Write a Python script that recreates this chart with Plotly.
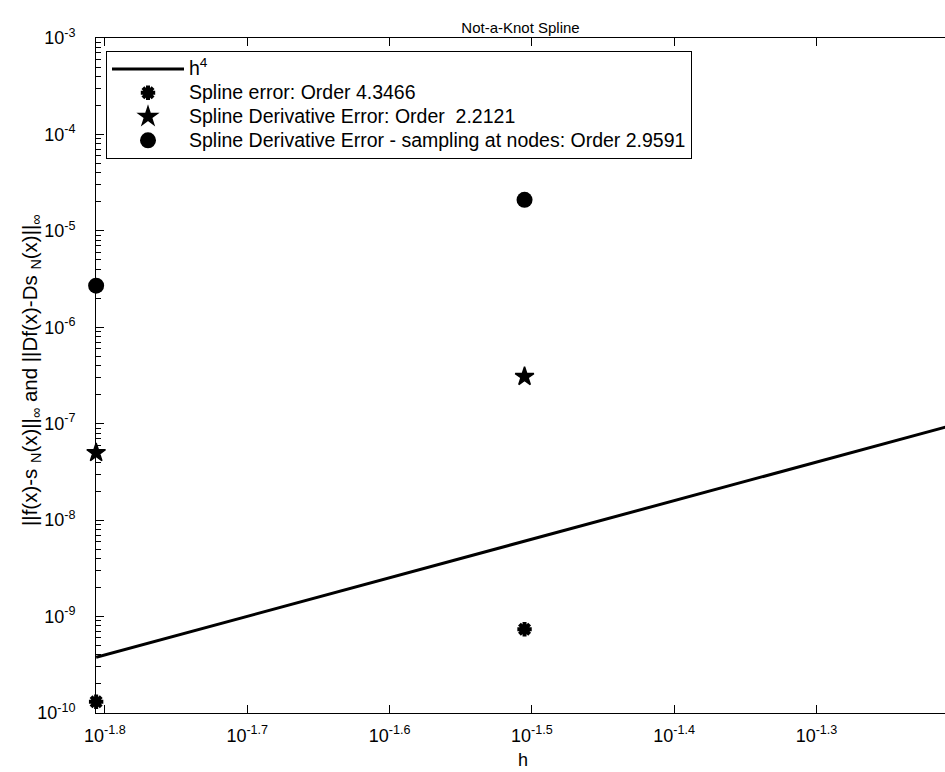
import math
import plotly.graph_objects as go

# ---- data ----
h_pts = [1/64, 1/32]
spline_err = [1.31e-10, 7.4e-10]
deriv_err = [5.0e-8, 3.08e-7]
deriv_nodes_err = [2.7e-6, 2.1e-5]

h_line = [1/64, 1/32, 1/16]
h4_ref = [3.78e-10, 6.05e-9, 9.68e-8]

x_tick_exp = [-1.8, -1.7, -1.6, -1.5, -1.4, -1.3]
y_tick_exp = [-10, -9, -8, -7, -6, -5, -4, -3]

names = [
    "h<sup>4</sup>",
    "Spline error: Order 4.3466",
    "Spline Derivative Error: Order  2.2121",
    "Spline Derivative Error - sampling at nodes: Order 2.9591",
]

FONT = "Liberation Sans, Arial, Helvetica, sans-serif"


def big(t):
    return '<span style="font-size:19.5px">' + t + '</span>'


fig = go.Figure()
fig.add_trace(go.Scatter(x=h_line, y=h4_ref, mode="lines", name=big(names[0]),
                         line=dict(color="black", width=3), legendgroup="a"))
fig.add_trace(go.Scatter(x=h_pts, y=spline_err, mode="markers", name=big(names[1]),
                         marker=dict(symbol="asterisk-open", size=12, color="black",
                                     line=dict(color="black", width=4)),
                         cliponaxis=False, legendgroup="b"))
fig.add_trace(go.Scatter(x=h_pts, y=deriv_err, mode="markers", name=big(names[2]),
                         marker=dict(symbol="star", size=14, color="black",
                                     line=dict(color="black", width=1.5)),
                         cliponaxis=False, legendgroup="c"))
fig.add_trace(go.Scatter(x=h_pts, y=deriv_nodes_err, mode="markers", name=big(names[3]),
                         marker=dict(symbol="circle", size=16, color="black"),
                         cliponaxis=False, legendgroup="d"))

minor_y = [m * 10.0 ** k for k in range(-10, -3) for m in range(2, 10)]

fig.update_layout(
    width=945, height=772,
    margin=dict(l=96, r=0, t=38, b=59),
    paper_bgcolor="white", plot_bgcolor="white",
    font=dict(family=FONT, color="black", size=18),
    title=dict(text="Not-a-Knot Spline", x=0.5, xref="paper", y=1 - 28/772,
               yref="container", xanchor="center", yanchor="middle",
               font=dict(size=15, family=FONT, color="black")),
    showlegend=True,
    legend=dict(x=(106-96)/849, y=(713-51)/675, xanchor="left", yanchor="top",
                bgcolor="white", bordercolor="black", borderwidth=1,
                font=dict(size=16, family=FONT, color="black"),
                itemwidth=72, tracegroupgap=0),
    xaxis=dict(type="log", range=[math.log10(1/64) - 0.0001, -1.2097],
               showgrid=False, zeroline=False,
               showline=True, linecolor="black", linewidth=1, mirror="ticks",
               ticks="inside", ticklen=8, tickcolor="black", tickwidth=1,
               tickvals=[10 ** e for e in x_tick_exp],
               ticktext=["10<sup>%g</sup>" % e for e in x_tick_exp],
               tickfont=dict(size=18), ticklabelstandoff=6),
    yaxis=dict(type="log", range=[-10, -3],
               showgrid=False, zeroline=False,
               showline=True, linecolor="black", linewidth=1,
               ticks="inside", ticklen=8, tickcolor="black", tickwidth=1,
               tickvals=[10.0 ** e for e in y_tick_exp],
               ticktext=["10<sup>%d</sup>" % e for e in y_tick_exp],
               tickfont=dict(size=18), ticklabelstandoff=16,
               minor=dict(ticks="inside", ticklen=5, tickcolor="black",
                          tickvals=minor_y, showgrid=False)),
    yaxis2=dict(type="log", range=[-10, -3], overlaying="y", side="right",
                matches="y", showgrid=False, zeroline=False, showline=False,
                ticks="inside", ticklen=4, tickcolor="black",
                tickvals=[10.0 ** e for e in y_tick_exp], showticklabels=False),
    annotations=[
        dict(text="||f(x)-s <sub>N</sub>(x)||<sub>∞</sub> and ||Df(x)-Ds <sub>N</sub>(x)||<sub>∞</sub>",
             textangle=-90, xref="paper", yref="paper",
             x=(31-96)/849, y=(713-370)/675, xanchor="center", yanchor="middle",
             showarrow=False, font=dict(size=20.5, family=FONT, color="black")),
        dict(text="h", xref="paper", yref="paper", x=(523-96)/849,
             y=(713-760)/675, xanchor="center", yanchor="middle",
             showarrow=False, font=dict(size=18, family=FONT, color="black")),
    ],
)

fig.write_html("out.html")
